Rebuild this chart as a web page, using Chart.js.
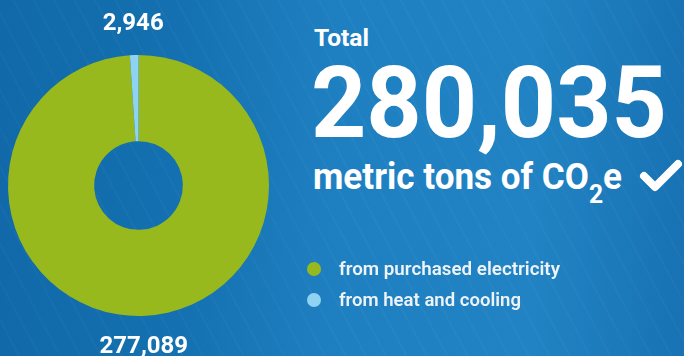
<!DOCTYPE html>
<html>
<head>
<meta charset="utf-8">
<script src="https://cdn.jsdelivr.net/npm/chart.js@4"></script>
<style>
html, body { margin: 0; padding: 0; }
body {
    width: 684px; height: 356px; overflow: hidden; position: relative;
    font-family: Roboto, sans-serif; color: #fff;
    background: linear-gradient(90deg, #1169a9 0%, #1470b0 25%, #1f80c1 50%, #2183c3 78%, #1872b4 100%);
}
.stripes {
    position: absolute; left: 0; top: 0; width: 684px; height: 356px;
    background: repeating-linear-gradient(62deg, rgba(255,255,255,0) 0 16px, rgba(255,255,255,0.025) 16px 18px);
}
#chartBox { position: absolute; left: 0; top: 0; width: 278px; height: 356px; }
.t { position: absolute; font-weight: 700; white-space: nowrap; transform-origin: 0 0; }
#totalLabel { left: 314px; top: 27px; font-size: 23px; line-height: 23px; }
#totalValue { left: 311px; top: 52px; font-size: 101px; line-height: 101px; }
#unitLabel { left: 313px; top: 158px; font-size: 37px; line-height: 37px; }
#unitLabel sub { font-size: 26px; line-height: 0; vertical-align: -14px; }
#check { position: absolute; left: 0; top: 0; }
.legend-item { position: absolute; left: 307px; font-size: 18px; line-height: 18px; font-weight: 600; color: #eef3f8; white-space: nowrap; }
.legend-item .dot { position: absolute; left: 0; top: 2px; width: 14px; height: 14px; border-radius: 50%; }
.legend-item span.txt { position: absolute; left: 32px; top: 0; transform-origin: 0 0; }
</style>
</head>
<body>
<div class="stripes"></div>
<div id="chartBox"><canvas id="co2Chart"></canvas></div>

<div class="t" id="totalLabel">Total</div>
<div class="t" id="totalValue"></div>
<div class="t" id="unitLabel">metric tons of CO<sub>2</sub>e</div>
<svg id="check" width="684" height="356">
    <polyline points="644,176 655,187 678,164" fill="none" stroke="#fff" stroke-width="8" stroke-linecap="round" stroke-linejoin="round"/>
</svg>
<div id="legend"></div>

<script>
// Data
const categories = ['from purchased electricity', 'from heat and cooling'];
const emissions = [277089, 2946];
const sliceColors = ['#97b91d', '#8ed3f2'];

// total shown on the right
const total = emissions.reduce((s, v) => s + v, 0);
document.getElementById('totalValue').textContent = total.toLocaleString('en-US');

// squeeze wide text to fit the width of the original lettering
function fitWidth(el, target) {
    const w = el.getBoundingClientRect().width;
    el.style.transform = 'scaleX(' + (target / w) + ')';
}
fitWidth(document.getElementById('totalValue'), 356);
fitWidth(document.getElementById('unitLabel'), 309);
fitWidth(document.getElementById('totalLabel'), 55);

// legend
const legend = document.getElementById('legend');
const legendTops = [260, 291];
const legendWidths = [221, 182];
categories.forEach((name, i) => {
    const item = document.createElement('div');
    item.className = 'legend-item';
    item.style.top = legendTops[i] + 'px';
    item.innerHTML = '<div class="dot" style="background:' + sliceColors[i] + '"></div><span class="txt">' + name + '</span>';
    legend.appendChild(item);
    fitWidth(item.querySelector('.txt'), legendWidths[i]);
});

// value labels outside each slice
const sliceLabels = {
    id: 'sliceLabels',
    afterDatasetsDraw(chart) {
        const ctx = chart.ctx;
        const meta = chart.getDatasetMeta(0);
        ctx.save();
        ctx.font = 'bold 24px Roboto';
        ctx.fillStyle = '#ffffff';
        ctx.textAlign = 'center';
        ctx.textBaseline = 'middle';
        meta.data.forEach((arc, i) => {
            const p = arc.getProps(['x', 'y', 'startAngle', 'endAngle', 'outerRadius'], true);
            const mid = (p.startAngle + p.endAngle) / 2;
            const r = p.outerRadius + 31;
            ctx.fillText(emissions[i].toLocaleString('en-US'), p.x + Math.cos(mid) * r, p.y + Math.sin(mid) * r);
        });
        ctx.restore();
    }
};

new Chart(document.getElementById('co2Chart'), {
    type: 'doughnut',
    data: {
        labels: categories,
        datasets: [{
            data: emissions,
            backgroundColor: sliceColors,
            borderWidth: 0
        }]
    },
    options: {
        responsive: true,
        maintainAspectRatio: false,
        animation: false,
        cutout: '34%',
        layout: { padding: { left: 8, right: 9, top: 55, bottom: 40 } },
        plugins: {
            legend: { display: false },
            tooltip: { enabled: false }
        }
    },
    plugins: [sliceLabels]
});
</script>
</body>
</html>
